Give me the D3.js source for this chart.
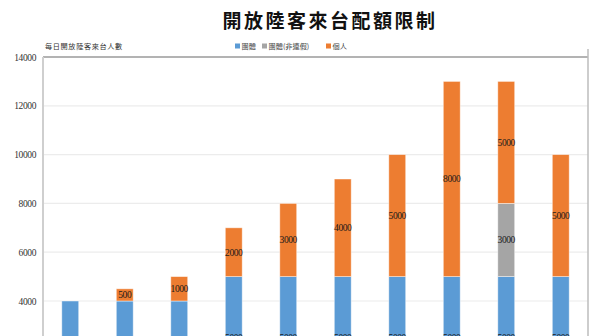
<!DOCTYPE html>
<html>
<head>
<meta charset="utf-8">
<script src="https://cdn.jsdelivr.net/npm/d3@7"></script>
<style>
  html, body { margin: 0; padding: 0; background: #fff; overflow: hidden; }
  svg { display: block; }
  .num { font-family: "Liberation Serif", "DejaVu Serif", serif; }
  .cjk { font-family: "Noto Sans CJK TC", sans-serif; }
</style>
</head>
<body>
<svg id="chart" width="600" height="336"></svg>
<script>
// Daily quota stages for mainland visitors
const categories = ["1", "2", "3", "4", "5", "6", "7", "8", "9", "10"];
const groupValues    = [4000, 4000, 4000, 5000, 5000, 5000, 5000, 5000, 5000, 5000];
const offPeakValues  = [0, 0, 0, 0, 0, 0, 0, 0, 3000, 0];
const individualVals = [0, 500, 1000, 2000, 3000, 4000, 5000, 8000, 5000, 5000];
const seriesNames  = ["團體", "團體(非連假)", "個人"];
const seriesColors = ["#5b9bd5", "#a5a5a5", "#ed7d31"];
const yTicks = [4000, 6000, 8000, 10000, 12000, 14000];

const svg = d3.select("#chart");
const margin = { left: 43, right: 12, top: 57 };
const plotW = 600 - margin.left - margin.right;

const rows = categories.map((c, i) => ({
  cat: c,
  g: groupValues[i],
  o: offPeakValues[i],
  p: individualVals[i]
}));
const keys = ["g", "o", "p"];
const stacked = d3.stack().keys(keys)(rows);

const x = d3.scaleBand().domain(categories).range([margin.left, margin.left + plotW]).paddingInner(0.69).paddingOuter(0.345);
const y = d3.scaleLinear().domain([0, 14000]).range([398.6, margin.top]);

// gridlines
svg.append("g")
  .selectAll("line")
  .data(yTicks.filter(t => t < 14000))
  .join("line")
  .attr("x1", margin.left).attr("x2", margin.left + plotW)
  .attr("y1", d => y(d)).attr("y2", d => y(d))
  .attr("stroke", "#ececec").attr("stroke-width", 1.2);

// plot border
svg.append("line")
  .attr("x1", margin.left).attr("x2", margin.left + plotW)
  .attr("y1", y(14000)).attr("y2", y(14000))
  .attr("stroke", "#9a9a9a").attr("stroke-width", 1.5);
svg.append("line")
  .attr("x1", margin.left).attr("x2", margin.left)
  .attr("y1", y(14000)).attr("y2", y(0))
  .attr("stroke", "#cfcfcf").attr("stroke-width", 2);
svg.append("line")
  .attr("x1", margin.left + plotW).attr("x2", margin.left + plotW)
  .attr("y1", y(14000) - 8).attr("y2", y(0))
  .attr("stroke", "#bdbdbd").attr("stroke-width", 1.5);

// y axis labels
const yAxis = d3.axisLeft(y).tickValues(yTicks).tickSize(0).tickPadding(7).tickFormat(d3.format("d"));
const ya = svg.append("g").attr("transform", `translate(${margin.left},0)`).call(yAxis);
ya.select(".domain").remove();
ya.attr("font-family", null).attr("font-size", null);
ya.selectAll("text")
  .attr("class", "num")
  .style("font-size", "9.5px")
  .attr("fill", "#333")
  .attr("letter-spacing", -0.4);

// stacked bars
const layers = svg.append("g").selectAll("g")
  .data(stacked)
  .join("g")
  .attr("fill", (d, i) => seriesColors[i]);

layers.selectAll("rect")
  .data(d => d.map(v => ({ v, key: d.key })))
  .join("rect")
  .filter(d => d.v[1] - d.v[0] > 0)
  .attr("x", d => x(d.v.data.cat))
  .attr("width", x.bandwidth())
  .attr("y", d => y(d.v[1]))
  .attr("height", d => y(d.v[0]) - y(d.v[1]))
  .attr("stroke", "#ffffff")
  .attr("stroke-opacity", 0.55)
  .attr("stroke-width", 0.8);

// segment value labels
const labelData = [];
stacked.forEach(layer => {
  layer.forEach(v => {
    const val = v[1] - v[0];
    if (val > 0) labelData.push({ cat: v.data.cat, mid: (v[0] + v[1]) / 2, val });
  });
});
svg.append("g").selectAll("text")
  .data(labelData)
  .join("text")
  .attr("class", "num")
  .attr("x", d => x(d.cat) + x.bandwidth() / 2)
  .attr("y", d => y(d.mid))
  .attr("dy", "0.35em")
  .attr("text-anchor", "middle")
  .style("font-size", "9.5px")
  .attr("letter-spacing", -0.4)
  .attr("fill", "#1a1a1a")
  .text(d => d.val);

// title
svg.append("text")
  .attr("class", "cjk")
  .attr("x", 330).attr("y", 28)
  .attr("text-anchor", "middle")
  .attr("font-weight", 700)
  .style("font-size", "19px")
  .attr("letter-spacing", 2.5)
  .attr("fill", "#111")
  .text("開放陸客來台配額限制");

// axis caption
svg.append("text")
  .attr("class", "cjk")
  .attr("x", 45).attr("y", 49)
  .style("font-size", "7.2px")
  .attr("letter-spacing", 0.6)
  .attr("fill", "#333")
  .text("每日開放陸客來台人數");

// legend
const legendX = [235, 262, 326];
const lg = svg.append("g").selectAll("g")
  .data(seriesNames)
  .join("g")
  .attr("transform", (d, i) => `translate(${legendX[i]},47)`);
lg.append("rect")
  .attr("x", 0).attr("y", -3.5).attr("width", 5).attr("height", 5)
  .attr("fill", (d, i) => seriesColors[i]);
lg.append("text")
  .attr("class", "cjk")
  .attr("x", 6.5).attr("y", 0).attr("dy", "0.32em")
  .style("font-size", "7.2px")
  .attr("fill", "#444")
  .text(d => d);
</script>
</body>
</html>
